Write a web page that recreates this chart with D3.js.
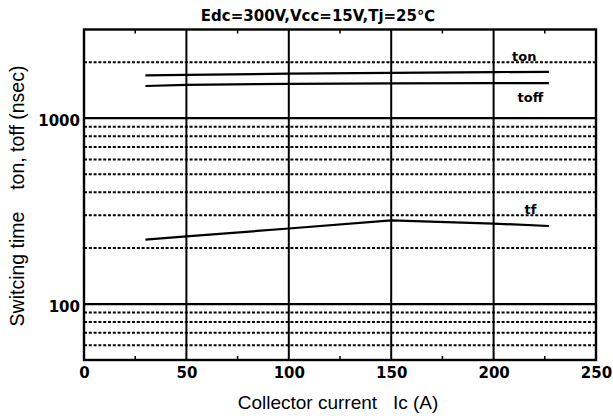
<!DOCTYPE html>
<html>
<head>
<meta charset="utf-8">
<script src="https://cdn.jsdelivr.net/npm/d3@7.9.0/dist/d3.min.js"></script>
<style>
  body { margin: 0; background: #fff; }
  svg { display: block; }
  .tick text { font-family: "DejaVu Sans", sans-serif; font-weight: bold; font-size: 15px; fill: #000; }
</style>
</head>
<body>
<div id="chart"></div>
<script>
// collector current (A) where each curve was read
const currentA = [30, 50, 100, 150, 200, 227];
// switching times (ns)
const tonNs  = [1700, 1710, 1735, 1755, 1770, 1775];
const toffNs = [1490, 1510, 1530, 1540, 1545, 1545];
const tfNs   = [222, 231, 255, 282, 271, 263];

const xTicks = [0, 50, 100, 150, 200, 250];
const xMinorTicks = [25, 75, 125, 175, 225];
const ySolid = [100, 1000];
const yDotted = [60, 70, 80, 90, 200, 300, 400, 500, 600, 700, 800, 900, 2000];
const yLabels = [100, 1000];

const curveLabels = [
  { name: 'ton',  x: 215, y: 2040 },
  { name: 'toff', x: 218, y: 1220 },
  { name: 'tf',   x: 218, y: 304 },
];

const width = 613;
const height = 416;
const margin = { top: 29.5, right: 17, bottom: 56, left: 84 };

const svg = d3.select('#chart')
  .append('svg')
  .attr('width', width)
  .attr('height', height);

const xScale = d3.scaleLinear()
  .domain([0, 250])
  .range([margin.left, width - margin.right]);

const yScale = d3.scaleLog()
  .domain([50, 3000])
  .range([height - margin.bottom, margin.top]);

// ----- gridlines -----
const grid = svg.append('g').attr('class', 'grid');

grid.selectAll('line.dot')
  .data(yDotted)
  .join('line')
  .attr('class', 'dot')
  .attr('x1', xScale(0)).attr('x2', xScale(250))
  .attr('y1', (d) => yScale(d)).attr('y2', (d) => yScale(d))
  .attr('stroke', '#000')
  .attr('stroke-width', 2)
  .attr('stroke-dasharray', '3,1.8');

grid.selectAll('line.solid')
  .data(ySolid)
  .join('line')
  .attr('class', 'solid')
  .attr('x1', xScale(0)).attr('x2', xScale(250))
  .attr('y1', (d) => yScale(d)).attr('y2', (d) => yScale(d))
  .attr('stroke', '#000')
  .attr('stroke-width', 2.2);

grid.selectAll('line.vert')
  .data(xTicks.slice(1, -1))
  .join('line')
  .attr('class', 'vert')
  .attr('x1', (d) => xScale(d)).attr('x2', (d) => xScale(d))
  .attr('y1', yScale(3000)).attr('y2', yScale(50))
  .attr('stroke', '#000')
  .attr('stroke-width', 2);

// minor ticks on top and bottom borders
grid.selectAll('line.minorB')
  .data(xMinorTicks)
  .join('line')
  .attr('class', 'minorB')
  .attr('x1', (d) => xScale(d)).attr('x2', (d) => xScale(d))
  .attr('y1', yScale(50)).attr('y2', yScale(50) - 4)
  .attr('stroke', '#000').attr('stroke-width', 1.5);

grid.selectAll('line.minorT')
  .data(xMinorTicks)
  .join('line')
  .attr('class', 'minorT')
  .attr('x1', (d) => xScale(d)).attr('x2', (d) => xScale(d))
  .attr('y1', yScale(3000)).attr('y2', yScale(3000) + 4)
  .attr('stroke', '#000').attr('stroke-width', 1.5);

// frame
svg.append('rect')
  .attr('x', xScale(0))
  .attr('y', yScale(3000))
  .attr('width', xScale(250) - xScale(0))
  .attr('height', yScale(50) - yScale(3000))
  .attr('fill', 'none')
  .attr('stroke', '#000')
  .attr('stroke-width', 2.4);

// ----- axes (labels only) -----
const xAxis = d3.axisBottom(xScale).tickValues(xTicks).tickSize(0).tickPadding(7);
svg.append('g')
  .attr('transform', `translate(0,${yScale(50)})`)
  .call(xAxis)
  .call((g) => g.select('.domain').remove());

const yAxis = d3.axisLeft(yScale).tickValues(yLabels).tickSize(0).tickPadding(4)
  .tickFormat(d3.format('d'));
svg.append('g')
  .attr('transform', `translate(${xScale(0)},0)`)
  .call(yAxis)
  .call((g) => g.select('.domain').remove())
  .call((g) => g.selectAll('text').attr('dy', '0.5em'));

// ----- curves -----
const line = d3.line()
  .x((d) => xScale(d[0]))
  .y((d) => yScale(d[1]));

const series = [tonNs, toffNs, tfNs];
svg.append('g')
  .selectAll('path')
  .data(series)
  .join('path')
  .attr('d', (s) => line(currentA.map((c, i) => [c, s[i]])))
  .attr('fill', 'none')
  .attr('stroke', '#000')
  .attr('stroke-width', 2.2);

svg.append('g')
  .selectAll('text')
  .data(curveLabels)
  .join('text')
  .attr('x', (d) => xScale(d.x))
  .attr('y', (d) => yScale(d.y))
  .attr('text-anchor', 'middle')
  .attr('font-family', 'DejaVu Sans, sans-serif')
  .attr('font-weight', 'bold')
  .attr('font-size', 13)
  .text((d) => d.name);

// ----- titles -----
svg.append('text')
  .attr('x', 318)
  .attr('y', 21)
  .attr('text-anchor', 'middle')
  .attr('font-family', 'DejaVu Sans, sans-serif')
  .attr('font-weight', 'bold')
  .attr('font-size', 15)
  .text('Edc=300V,Vcc=15V,Tj=25℃');

svg.append('text')
  .attr('x', 338)
  .attr('y', 409)
  .attr('text-anchor', 'middle')
  .attr('font-family', 'Liberation Sans, Arial, sans-serif')
  .attr('font-size', 19)
  .style('white-space', 'pre')
  .text('Collector current   Ic (A)');

svg.append('text')
  .attr('transform', 'translate(24,196) rotate(-90)')
  .attr('text-anchor', 'middle')
  .attr('font-family', 'Liberation Sans, Arial, sans-serif')
  .attr('font-size', 19.5)
  .style('white-space', 'pre')
  .text('Switcing time    ton, toff (nsec)');
</script>
</body>
</html>
